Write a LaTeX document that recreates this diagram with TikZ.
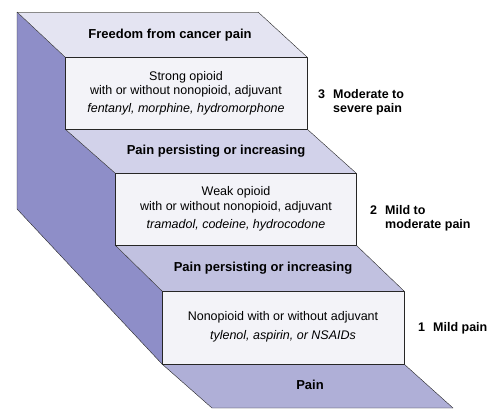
\documentclass[tikz,border=0pt]{standalone}
\usepackage{fontspec}
\setmainfont{Liberation Sans}
\usetikzlibrary{positioning}
\definecolor{ink}{HTML}{262626}
\definecolor{inkfaint}{HTML}{8A8A8A}
\definecolor{sideface}{HTML}{8E8EC8}
\definecolor{treadA}{HTML}{E4E4F2}
\definecolor{treadB}{HTML}{D2D2EA}
\definecolor{treadC}{HTML}{C1C1E0}
\definecolor{treadD}{HTML}{AFAFD7}
\definecolor{riser}{HTML}{F3F3F8}

\begin{document}
\begin{tikzpicture}[x=1pt,y=-1pt,line join=round,
  font=\fontsize{12.5}{14.5}\selectfont,
  tread/.style={font=\fontsize{13}{15}\selectfont\bfseries,inner sep=0pt},
  drug/.style={align=center,inner sep=0pt},
  level/.style={font=\fontsize{12.5}{14}\selectfont\bfseries,inner sep=0pt,anchor=west}]
  \useasboundingbox (0,0) rectangle (500,416);
  % side face of the staircase
  \fill[sideface] (17,12) -- (65,57) -- (65,129) -- (115,173) -- (115,245)
    -- (162,291) -- (162,364) -- (17,209) -- cycle;
  % treads, darker towards the bottom
  \fill[treadA] (17,12) -- (258,12) -- (307,57) -- (65,57) -- cycle;
  \fill[treadB] (65,129) -- (307,129) -- (356,173) -- (115,173) -- cycle;
  \fill[treadC] (115,245) -- (356,245) -- (404,291) -- (162,291) -- cycle;
  \fill[treadD] (162,364) -- (404,364) -- (453,408) -- (212,408) -- cycle;
  % risers
  \filldraw[fill=riser,draw=ink] (65,57) rectangle (307,129);
  \filldraw[fill=riser,draw=ink] (115,173) rectangle (356,245);
  \filldraw[fill=riser,draw=ink] (162,291) rectangle (404,364);
  % edges
  \draw[inkfaint] (17,12) -- (258,12);
  \draw[ink] (17,12) -- (65,57) (65,129) -- (115,173) (115,245) -- (162,291);
  \draw[ink] (258,12) -- (307,57) (307,129) -- (356,173) (356,245) -- (404,291) (404,364) -- (453,408);
  \draw[ink] (17,12) -- (17,209) -- (162,364) -- (212,408) -- (453,408);
  % tread texts
  \node[tread] (freedom) at (170,35) {Freedom from cancer pain};
  \node[tread] (persistA) at (216,151) {Pain persisting or increasing};
  \node[tread] (persistB) at (263,268) {Pain persisting or increasing};
  \node[tread] (pain) at (310,385) {Pain};
  % riser texts
  \node[drug] (strong) at (186,93) {Strong opioid\\with or without nonopioid, adjuvant\\[3pt]\textit{fentanyl, morphine, hydromorphone}};
  \node[drug] (weak) at (236,209) {Weak opioid\\with or without nonopioid, adjuvant\\[4pt]\textit{tramadol, codeine, hydrocodone}};
  \node[drug] (nonop) at (283,327) {Nonopioid with or without adjuvant\\[4pt]\textit{tylenol, aspirin, or NSAIDs}};
  % pain levels
  \node[level] (stepC) at (318,103) {\begin{tabular}{@{}l@{\hspace{8pt}}l@{}}3&Moderate to\\&severe pain\end{tabular}};
  \node[level] (stepB) at (370,219) {\begin{tabular}{@{}l@{\hspace{8pt}}l@{}}2&Mild to\\&moderate pain\end{tabular}};
  \node[level] (stepA) at (418,329) {\begin{tabular}{@{}l@{\hspace{8pt}}l@{}}1&Mild pain\end{tabular}};
\end{tikzpicture}
\end{document}
